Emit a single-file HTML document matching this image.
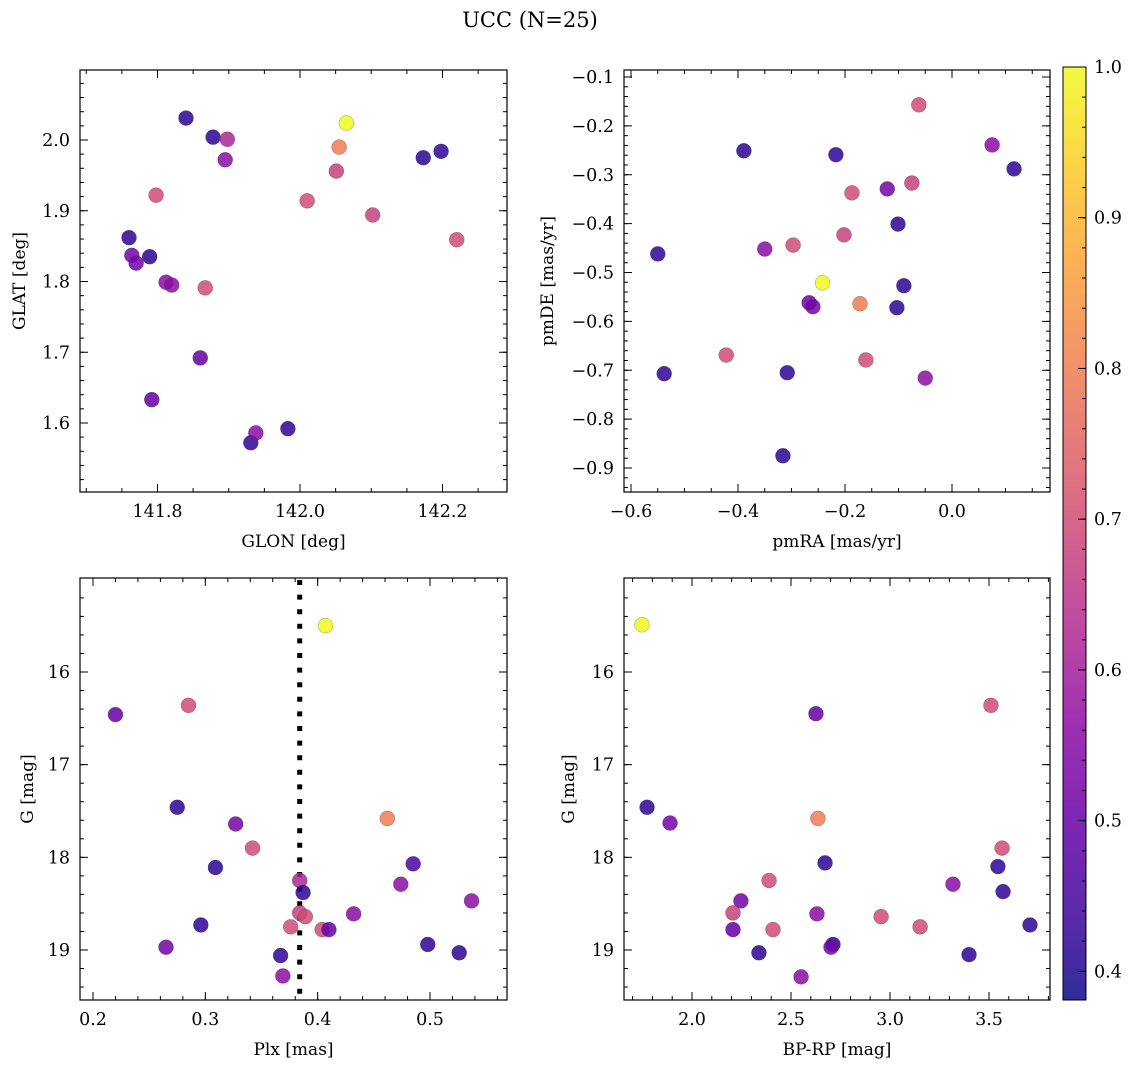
<!DOCTYPE html>
<html><head><meta charset="utf-8"><style>
body{margin:0;background:#fff}
svg{display:block;font-family:"DejaVu Serif","Liberation Serif",serif}
</style></head><body>
<svg id="c" width="1136" height="1067"></svg>
<script>
const tlGlon=[141.840,141.878,141.898,141.895,142.065,142.055,142.051,142.010,142.102,142.173,142.198,142.220,141.798,141.760,141.764,141.770,141.789,141.812,141.820,141.867,141.860,141.792,141.931,141.938,141.983];
const tlGlat=[2.031,2.004,2.001,1.972,2.024,1.990,1.956,1.914,1.894,1.975,1.984,1.859,1.922,1.862,1.837,1.826,1.835,1.799,1.795,1.791,1.692,1.633,1.572,1.586,1.592];
const tlProb=[.42,.42,.62,.56,1.0,.80,.68,.70,.68,.42,.42,.70,.70,.42,.52,.52,.42,.56,.56,.70,.50,.50,.42,.56,.42];
const trPmra=[-0.062,0.075,0.116,-0.389,-0.217,-0.075,-0.121,-0.187,-0.101,-0.202,-0.550,-0.350,-0.297,-0.242,-0.090,-0.267,-0.260,-0.172,-0.103,-0.422,-0.161,-0.538,-0.308,-0.050,-0.316];
const trPmde=[-0.157,-0.239,-0.288,-0.251,-0.259,-0.317,-0.329,-0.337,-0.401,-0.423,-0.462,-0.452,-0.444,-0.521,-0.527,-0.562,-0.570,-0.564,-0.572,-0.669,-0.679,-0.707,-0.705,-0.716,-0.875];
const trProb=[.70,.56,.42,.42,.42,.68,.52,.70,.42,.68,.42,.56,.70,1.0,.42,.52,.52,.80,.42,.70,.70,.42,.42,.56,.42];
const blPlx=[.407,.220,.285,.275,.327,.462,.342,.309,.485,.384,.474,.387,.537,.384,.389,.432,.376,.404,.410,.296,.265,.498,.526,.367,.369];
const blG=[15.50,16.46,16.36,17.46,17.64,17.58,17.90,18.11,18.07,18.25,18.29,18.38,18.47,18.60,18.64,18.61,18.75,18.78,18.78,18.73,18.97,18.94,19.03,19.06,19.28];
const blProb=[1.0,.50,.70,.42,.52,.80,.70,.42,.46,.62,.56,.42,.56,.68,.70,.56,.70,.70,.50,.42,.52,.42,.42,.42,.56];
const plxLine=0.384;
const brBprp=[1.747,2.626,3.510,1.773,1.889,2.636,3.566,2.672,3.545,2.389,3.318,3.571,2.247,2.207,2.631,2.955,3.152,3.707,2.207,2.409,2.712,2.702,2.338,3.399,2.551];
const brG=[15.49,16.45,16.36,17.46,17.63,17.58,17.90,18.06,18.10,18.25,18.29,18.37,18.47,18.60,18.61,18.64,18.75,18.73,18.78,18.78,18.94,18.97,19.03,19.05,19.29];
const brProb=[1.0,.50,.70,.42,.52,.80,.70,.42,.42,.70,.56,.42,.52,.68,.56,.70,.70,.42,.50,.70,.42,.52,.42,.42,.56];
const cbTicks=[0.4,0.5,0.6,0.7,0.8,0.9,1.0];

const NS='http://www.w3.org/2000/svg',svg=document.getElementById('c');
function mk(t,a,p){const e=document.createElementNS(NS,t);for(const k in a)e.setAttribute(k,a[k]);(p||svg).appendChild(e);return e;}
const stops=['#0d0887','#41049d','#6a00a8','#8f0da4','#b12a90','#cc4778','#e16462','#f2844b','#fca636','#fcce25','#f0f921'];
function hx(h){return [1,3,5].map(i=>parseInt(h.substr(i,2),16));}
const VMIN=0.381,VMAX=1.0;
function plasma(t){t=Math.max(0,Math.min(1,t));const f=t*10,i=Math.min(9,Math.floor(f)),r=f-i,a=hx(stops[i]),b=hx(stops[i+1]);return 'rgb('+a.map((v,k)=>Math.round(v+(b[k]-v)*r)).join(',')+')';}
function col(v){return plasma((v-VMIN)/(VMAX-VMIN));}
function lin(d0,r0,d1,r1){return v=>r0+(v-d0)*(r1-r0)/(d1-d0);}
function fmt(v,d){let s=v.toFixed(d);if(parseFloat(s)===0)return (0).toFixed(d);if(v<0)s='\u2212'+s.slice(1);return s;}
const TF=17.5;
function panel(o){
  const g=mk('g',{});
  const X=o.X,Y=o.Y;
  const eps=1e-9;
  function ticks(axis,start,step,len,labels,dec){
    const lo=axis=='x'?o.xd[0]:o.yd[0],hi=axis=='x'?o.xd[1]:o.yd[1];
    const a=Math.min(lo,hi),b=Math.max(lo,hi);
    for(let k=Math.ceil((a-start)/step-eps);start+k*step<=b+eps;k++){
      const v=start+k*step;
      if(axis=='x'){const x=X(v);
        mk('line',{x1:x,x2:x,y1:o.b,y2:o.b-len,stroke:'#000','stroke-width':1},g);
        mk('line',{x1:x,x2:x,y1:o.t,y2:o.t+len,stroke:'#000','stroke-width':1},g);
        if(labels){const t=mk('text',{x:x,y:o.b+25,'text-anchor':'middle','font-size':TF},g);t.textContent=fmt(v,dec);}
      }else{const y=Y(v);
        mk('line',{x1:o.l,x2:o.l+len,y1:y,y2:y,stroke:'#000','stroke-width':1},g);
        mk('line',{x1:o.r,x2:o.r-len,y1:y,y2:y,stroke:'#000','stroke-width':1},g);
        if(labels){const t=mk('text',{x:o.l-10,y:y+6,'text-anchor':'end','font-size':TF},g);t.textContent=fmt(v,dec);}
      }
    }
  }
  ticks('x',o.xs,o.xm/o.xn,4,false);ticks('x',o.xs,o.xm,8,true,o.xdec);
  ticks('y',o.ys,o.ym/o.yn,4,false);ticks('y',o.ys,o.ym,8,true,o.ydec);
  if(o.extra)o.extra(g);
  for(let i=0;i<o.xv.length;i++){
    const c=mk('circle',{cx:X(o.xv[i]),cy:Y(o.yv[i]),r:7.5,fill:col(o.cv[i]),'fill-opacity':0.85,stroke:'rgba(60,60,60,0.5)','stroke-width':0.5},g);
    
    
  }
  mk('rect',{x:o.l,y:o.t,width:o.r-o.l,height:o.b-o.t,fill:'none',stroke:'#000','stroke-width':1.2,},g);
  const xl=mk('text',{x:(o.l+o.r)/2,y:o.b+55,'text-anchor':'middle','font-size':17,},g);xl.textContent=o.xlab;
  const cy=(o.t+o.b)/2,yx=o.l-o.yoff;
  const yl=mk('text',{x:yx,y:cy,'text-anchor':'middle','font-size':17,transform:`rotate(-90 ${yx} ${cy})`,},g);yl.textContent=o.ylab;
}
// TL
let X=lin(141.8,157.5,142.2,442.5),Y=lin(2.0,140,1.6,423);
panel({name:'glon-glat-panel',l:80,r:507,t:70,b:492,X,Y,xd:[141.691,142.291],yd:[1.502,2.099],xs:141.8,xm:0.2,xn:4,xdec:1,ys:1.6,ym:0.1,yn:5,ydec:1,xv:tlGlon,yv:tlGlat,cv:tlProb,xlab:'GLON [deg]',ylab:'GLAT [deg]',yoff:55});
// TR
X=lin(-0.6,631,0.0,952);Y=lin(-0.1,77,-0.9,468);
panel({name:'pm-panel',l:624,r:1050,t:70,b:492,X,Y,xd:[-0.613,0.183],yd:[-0.951,-0.086],xs:-0.6,xm:0.2,xn:4,xdec:1,ys:-0.9,ym:0.1,yn:5,ydec:1,xv:trPmra,yv:trPmde,cv:trProb,xlab:'pmRA [mas/yr]',ylab:'pmDE [mas/yr]',yoff:71});
// BL
X=lin(0.2,93,0.5,430);Y=lin(16,672,19,950);
panel({name:'plx-g-panel',l:80,r:507,t:578,b:1000,X,Y,xd:[0.188,0.568],yd:[15.01,19.54],xs:0.2,xm:0.1,xn:5,xdec:1,ys:16,ym:1,yn:5,ydec:0,xv:blPlx,yv:blG,cv:blProb,xlab:'Plx [mas]',ylab:'G [mag]',yoff:47,
 extra:g=>{const x=X(plxLine);mk('line',{x1:x,x2:x,y1:580,y2:1000,stroke:'#000','stroke-width':5,'stroke-dasharray':'5 9.6',},g);}});
// BR
X=lin(2.0,692,3.5,989);Y=lin(16,672,19,950);
panel({name:'cmd-panel',l:624,r:1050,t:578,b:1000,X,Y,xd:[1.662,3.813],yd:[15.01,19.54],xs:2.0,xm:0.5,xn:5,xdec:1,ys:16,ym:1,yn:5,ydec:0,xv:brBprp,yv:brG,cv:brProb,xlab:'BP-RP [mag]',ylab:'G [mag]',yoff:50});
// colorbar
const cb=mk('g',{});
const defs=mk('defs',{}),gr=mk('linearGradient',{id:'pg',x1:0,y1:1,x2:0,y2:0},defs);
for(let i=0;i<=20;i++)mk('stop',{offset:i/20,'stop-color':plasma(i/20),'stop-opacity':0.85},gr);
mk('rect',{x:1063,y:67,width:23,height:933,fill:'url(#pg)',stroke:'#000','stroke-width':1},cb);
const CY=lin(VMIN,1000,VMAX,67);
for(let v=0.4;v<=1.0001;v+=0.02){const y=CY(v);mk('line',{x1:1086,x2:1082,y1:y,y2:y,stroke:'#000'},cb);}
cbTicks.forEach(v=>{const y=CY(v);mk('line',{x1:1086,x2:1078,y1:y,y2:y,stroke:'#000'},cb);const t=mk('text',{x:1094,y:y+6,'font-size':TF},cb);t.textContent=v.toFixed(1);});
const tt=mk('text',{x:530,y:27,'text-anchor':'middle','font-size':21,});tt.textContent='UCC (N=25)';
</script>
</body></html>
